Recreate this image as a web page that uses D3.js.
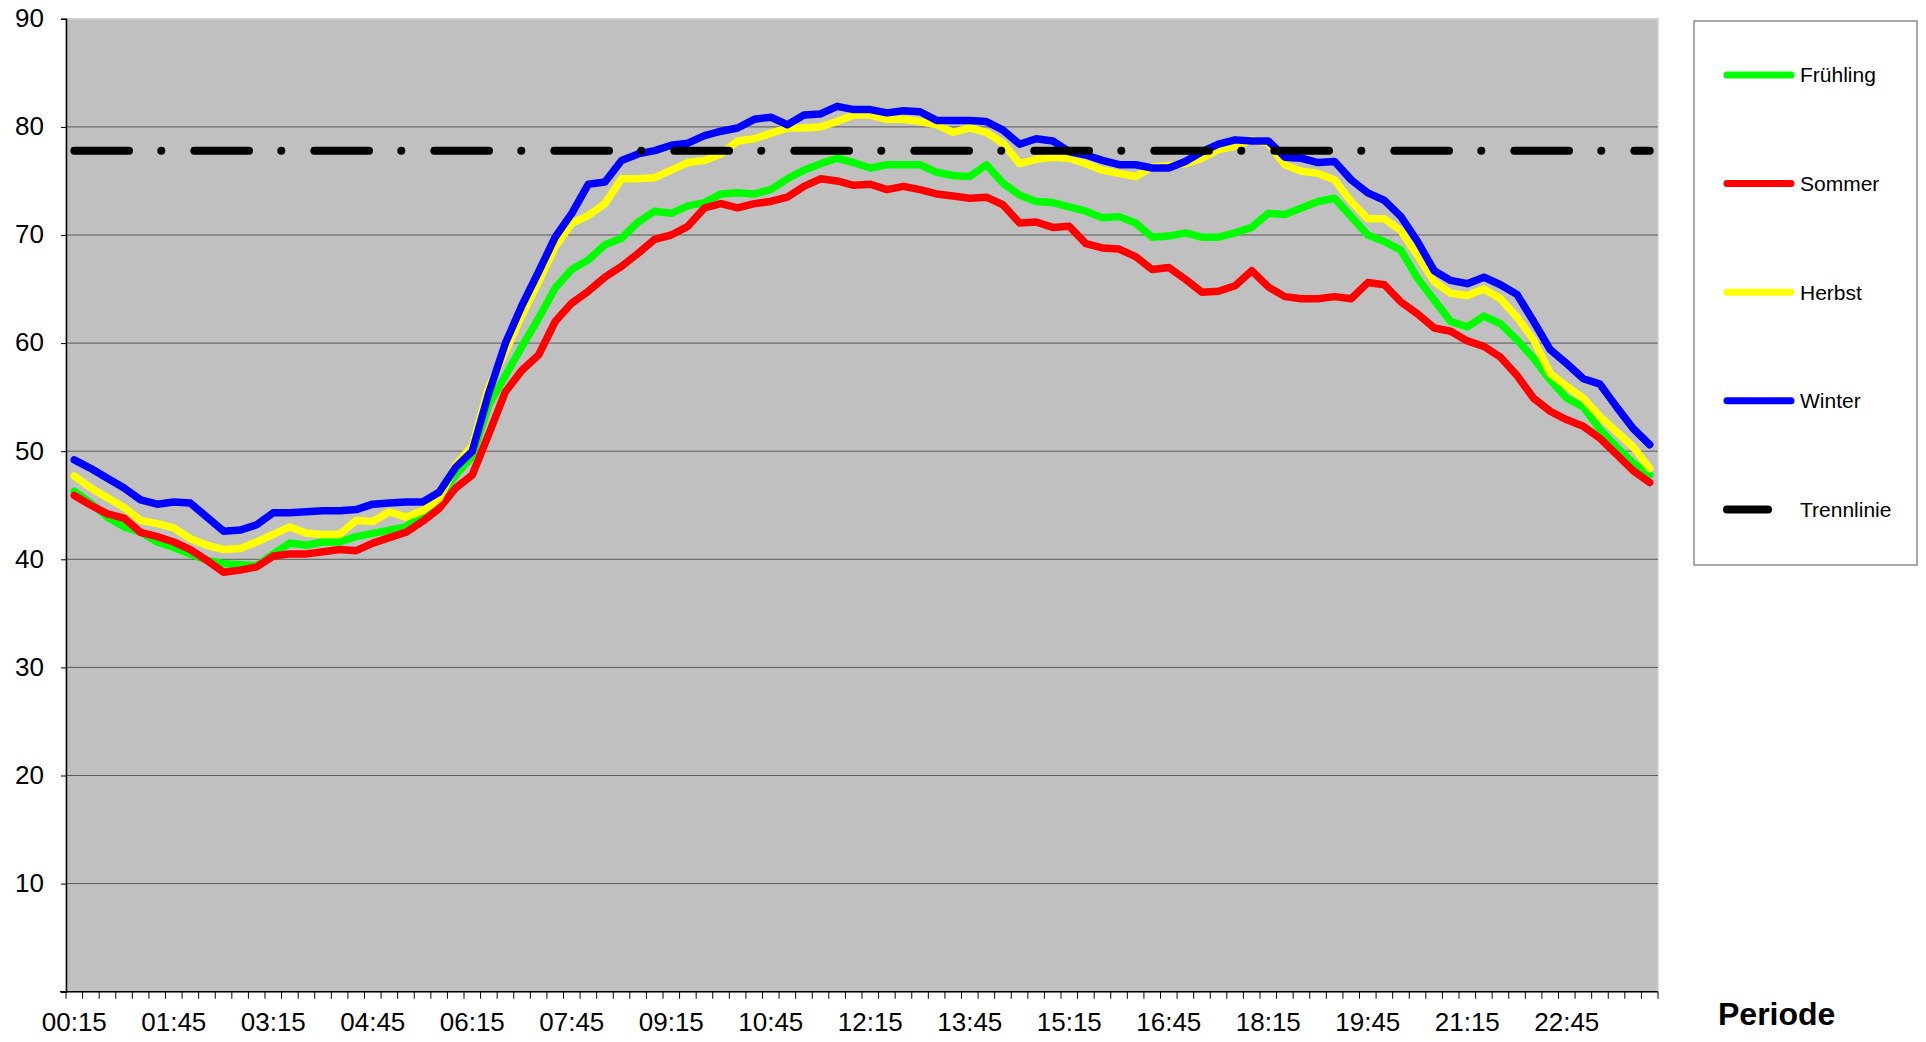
<!DOCTYPE html>
<html>
<head>
<meta charset="utf-8">
<script src="https://cdnjs.cloudflare.com/ajax/libs/d3/7.8.5/d3.min.js"></script>
<style>
  body { margin: 0; background: #fff; }
  text { font-family: Arial, "Liberation Sans", sans-serif; }
</style>
</head>
<body>
<div id="vis"></div>
<script>

const WIDTH = 1926;
const HEIGHT = 1042;
const PLOT = {left: 66, right: 1658, top: 18.8, bottom: 991.7};

// 96 Viertelstunden-Perioden
const periods = [
  "00:15","00:30","00:45","01:00","01:15","01:30","01:45","02:00","02:15","02:30","02:45","03:00",
  "03:15","03:30","03:45","04:00","04:15","04:30","04:45","05:00","05:15","05:30","05:45","06:00",
  "06:15","06:30","06:45","07:00","07:15","07:30","07:45","08:00","08:15","08:30","08:45","09:00",
  "09:15","09:30","09:45","10:00","10:15","10:30","10:45","11:00","11:15","11:30","11:45","12:00",
  "12:15","12:30","12:45","13:00","13:15","13:30","13:45","14:00","14:15","14:30","14:45","15:00",
  "15:15","15:30","15:45","16:00","16:15","16:30","16:45","17:00","17:15","17:30","17:45","18:00",
  "18:15","18:30","18:45","19:00","19:15","19:30","19:45","20:00","20:15","20:30","20:45","21:00",
  "21:15","21:30","21:45","22:00","22:15","22:30","22:45","23:00","23:15","23:30","23:45","24:00"
];
const xLabels = ["00:15","01:45","03:15","04:45","06:15","07:45","09:15","10:45",
                 "12:15","13:45","15:15","16:45","18:15","19:45","21:15","22:45"];
const yTicks = [0, 10, 20, 30, 40, 50, 60, 70, 80, 90];

const fruehling = [
  46.3, 45.2, 43.9, 43.0, 42.5, 41.6, 41.1, 40.5, 39.9, 39.6, 39.5, 39.4, 40.5, 41.5, 41.3, 41.6,
  41.6, 42.1, 42.4, 42.7, 43.0, 44.3, 45.7, 47.8, 49.5, 54.3, 57.0, 59.7, 62.3, 65.1, 66.8, 67.7,
  69.1, 69.7, 71.2, 72.2, 72.0, 72.7, 73.0, 73.8, 73.9, 73.8, 74.2, 75.2, 76.0, 76.6, 77.1, 76.7,
  76.2, 76.5, 76.5, 76.5, 75.8, 75.5, 75.4, 76.5, 74.8, 73.7, 73.1, 73.0, 72.6, 72.2, 71.6, 71.7,
  71.1, 69.8, 69.9, 70.2, 69.8, 69.8, 70.2, 70.7, 72.0, 71.9, 72.5, 73.1, 73.4, 71.7, 70.0, 69.4,
  68.6, 66.0, 64.0, 62.0, 61.5, 62.5, 61.8, 60.3, 58.6, 56.6, 54.9, 54.1, 52.0, 50.4, 48.9, 47.8
];
const sommer = [
  45.9, 45.0, 44.2, 43.8, 42.5, 42.1, 41.6, 40.9, 39.9, 38.8, 39.0, 39.3, 40.3, 40.5, 40.5, 40.7,
  40.9, 40.8, 41.5, 42.0, 42.5, 43.5, 44.7, 46.6, 47.8, 51.6, 55.5, 57.5, 58.9, 62.0, 63.7, 64.8,
  66.1, 67.1, 68.3, 69.6, 70.0, 70.8, 72.5, 72.9, 72.5, 72.9, 73.1, 73.5, 74.5, 75.2, 75.0, 74.6,
  74.7, 74.2, 74.5, 74.2, 73.8, 73.6, 73.4, 73.5, 72.8, 71.1, 71.2, 70.7, 70.8, 69.2, 68.8, 68.7,
  68.0, 66.8, 67.0, 65.9, 64.7, 64.8, 65.3, 66.7, 65.2, 64.3, 64.1, 64.1, 64.3, 64.1, 65.6, 65.4,
  63.8, 62.7, 61.4, 61.1, 60.2, 59.7, 58.7, 57.0, 54.9, 53.7, 52.9, 52.3, 51.2, 49.7, 48.2, 47.1
];
const herbst = [
  47.7, 46.6, 45.7, 44.8, 43.6, 43.3, 42.9, 41.9, 41.3, 40.9, 41.0, 41.6, 42.3, 43.0, 42.4, 42.3,
  42.3, 43.6, 43.5, 44.4, 43.9, 44.5, 45.6, 48.7, 50.5, 56.0, 59.2, 62.6, 65.7, 68.9, 71.1, 71.8,
  72.9, 75.2, 75.2, 75.3, 76.0, 76.7, 76.9, 77.5, 78.7, 78.9, 79.4, 79.9, 79.9, 80.0, 80.5, 81.1,
  81.1, 80.7, 80.7, 80.5, 80.2, 79.5, 79.9, 79.5, 78.5, 76.6, 77.0, 77.2, 77.1, 76.6, 76.0, 75.7,
  75.4, 76.3, 76.4, 76.6, 77.1, 77.9, 78.2, 78.8, 78.5, 76.5, 75.9, 75.7, 75.1, 73.1, 71.5, 71.5,
  70.4, 68.1, 65.7, 64.6, 64.4, 65.0, 64.1, 62.4, 60.3, 57.2, 56.0, 54.9, 53.2, 51.8, 50.4, 48.4
];
const winter = [
  49.2, 48.4, 47.5, 46.6, 45.5, 45.1, 45.3, 45.2, 43.9, 42.6, 42.7, 43.2, 44.3, 44.3, 44.4, 44.5,
  44.5, 44.6, 45.1, 45.2, 45.3, 45.3, 46.2, 48.5, 50.0, 55.4, 60.0, 63.5, 66.6, 69.8, 72.0, 74.7,
  74.9, 76.9, 77.5, 77.8, 78.3, 78.5, 79.2, 79.6, 79.9, 80.7, 80.9, 80.2, 81.1, 81.2, 81.9, 81.6,
  81.6, 81.3, 81.5, 81.4, 80.6, 80.6, 80.6, 80.5, 79.7, 78.4, 78.9, 78.7, 77.7, 77.4, 76.9, 76.5,
  76.5, 76.2, 76.2, 76.8, 77.7, 78.4, 78.8, 78.7, 78.7, 77.2, 77.1, 76.7, 76.8, 75.1, 73.9, 73.2,
  71.7, 69.4, 66.7, 65.8, 65.5, 66.1, 65.4, 64.5, 62.0, 59.4, 58.1, 56.7, 56.2, 54.1, 52.1, 50.6
];
const trennlinie = 77.8;

const seriesNames = ["Frühling", "Sommer", "Herbst", "Winter"];
const seriesColors = ["#00ff00", "#ff0000", "#ffff00", "#0000ff"];
const seriesData = [fruehling, sommer, herbst, winter];

const FRAME = d3.select("#vis")
  .append("svg")
    .attr("width", WIDTH)
    .attr("height", HEIGHT);

const X_SCALE = d3.scaleBand().domain(periods).range([PLOT.left, PLOT.right]);
const Y_SCALE = d3.scaleLinear().domain([0, 90]).range([PLOT.bottom, PLOT.top]);
const xc = (p) => X_SCALE(p) + X_SCALE.bandwidth() / 2;

// plot background
FRAME.append("rect")
  .attr("x", PLOT.left).attr("y", PLOT.top)
  .attr("width", PLOT.right - PLOT.left).attr("height", PLOT.bottom - PLOT.top)
  .attr("fill", "#c0c0c0")
  .attr("stroke", "#d4d4d4")
  .attr("stroke-width", 1.5);

// gridlines
FRAME.append("g")
  .selectAll("line")
  .data(yTicks.filter(d => d > 0 && d < 90))
  .enter().append("line")
    .attr("x1", PLOT.left).attr("x2", PLOT.right)
    .attr("y1", d => Y_SCALE(d)).attr("y2", d => Y_SCALE(d))
    .attr("stroke", "#5a5a5a")
    .attr("stroke-width", 1);

// y axis
const yAxis = FRAME.append("g")
  .attr("transform", "translate(" + PLOT.left + ",0)")
  .call(d3.axisLeft(Y_SCALE).tickValues(yTicks).tickSize(5).tickPadding(17)
    .tickFormat(d => d === 0 ? "" : d));
yAxis.select(".domain").attr("stroke", "#000").attr("stroke-width", 1.5);
yAxis.selectAll("text").attr("font-size", 26).attr("fill", "#000").attr("dy", "0.30em")
  .style("font-family", "Arial, 'Liberation Sans', sans-serif");

// x axis
FRAME.append("line")
  .attr("x1", PLOT.left - 6).attr("x2", PLOT.right)
  .attr("y1", PLOT.bottom).attr("y2", PLOT.bottom)
  .attr("stroke", "#000").attr("stroke-width", 1.5);

FRAME.append("g")
  .selectAll("line")
  .data(periods.map(p => X_SCALE(p)).concat([PLOT.right]))
  .enter().append("line")
    .attr("x1", d => d).attr("x2", d => d)
    .attr("y1", PLOT.bottom).attr("y2", PLOT.bottom + 7)
    .attr("stroke", "#000").attr("stroke-width", 1);

const xAxis = FRAME.append("g")
  .attr("transform", "translate(0," + PLOT.bottom + ")")
  .call(d3.axisBottom(X_SCALE).tickValues(xLabels).tickSize(0).tickPadding(21));
xAxis.select(".domain").remove();
xAxis.selectAll("text").attr("font-size", 26).attr("fill", "#000")
  .style("font-family", "Arial, 'Liberation Sans', sans-serif");

// series lines
const lineGen = d3.line()
  .x((d, i) => xc(periods[i]))
  .y(d => Y_SCALE(d));

FRAME.append("g")
  .selectAll("path")
  .data(seriesData)
  .enter().append("path")
    .attr("d", d => lineGen(d))
    .attr("fill", "none")
    .attr("stroke", (d, i) => seriesColors[i])
    .attr("stroke-width", 7.5)
    .attr("stroke-linejoin", "round")
    .attr("stroke-linecap", "round");

// Trennlinie
FRAME.append("line")
  .attr("x1", xc(periods[0])).attr("x2", xc(periods[periods.length - 1]))
  .attr("y1", Y_SCALE(trennlinie)).attr("y2", Y_SCALE(trennlinie))
  .attr("stroke", "#000")
  .attr("stroke-width", 8)
  .attr("stroke-linecap", "round")
  .attr("stroke-dasharray", "54.7,32.3,0,33");

// legend
const LEG = {x: 1694, y: 21, w: 223, h: 544};
const legend = FRAME.append("g");
legend.append("rect")
  .attr("x", LEG.x).attr("y", LEG.y).attr("width", LEG.w).attr("height", LEG.h)
  .attr("fill", "#fff").attr("stroke", "#8c8c8c").attr("stroke-width", 1.5);

const legendItems = seriesNames.map((n, i) => ({name: n, color: seriesColors[i], x2: 1791}))
  .concat([{name: "Trennlinie", color: "#000", x2: 1768}]);

const rows = legend.selectAll(".row")
  .data(legendItems)
  .enter().append("g")
    .attr("class", "row")
    .attr("transform", (d, i) => "translate(0," + (LEG.y + 54 + i * 108.6) + ")");

rows.append("line")
  .attr("x1", 1727).attr("x2", d => d.x2)
  .attr("y1", 0).attr("y2", 0)
  .attr("stroke", d => d.color)
  .attr("stroke-width", (d, i) => i === 4 ? 8 : 7)
  .attr("stroke-linecap", "round");

rows.append("text")
  .attr("x", 1800).attr("y", 0)
  .attr("dy", "0.35em")
  .attr("font-size", 21)
  .attr("fill", "#000")
  .text(d => d.name);

// axis title
FRAME.append("text")
  .attr("x", 1718).attr("y", 1014)
  .attr("dy", "0.35em")
  .attr("font-size", 32)
  .attr("font-weight", "bold")
  .attr("fill", "#000")
  .text("Periode");

</script>
</body>
</html>
